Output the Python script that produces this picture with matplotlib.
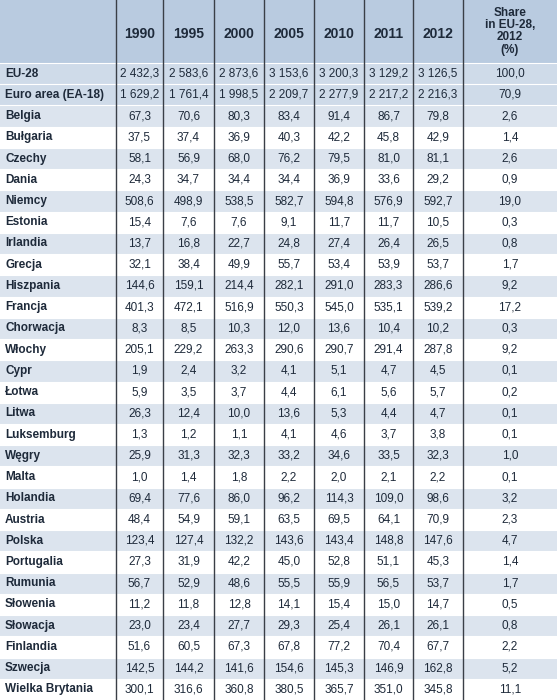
import matplotlib.pyplot as plt
from matplotlib.patches import Rectangle

plt.rcParams['font.family'] = ['Liberation Sans Narrow', 'Liberation Sans', 'DejaVu Sans']

years = ["1990", "1995", "2000", "2005", "2010", "2011", "2012"]
share_header = "Share\nin EU-28,\n2012\n(%)"

countries = [
    "EU-28", "Euro area (EA-18)", "Belgia", "Bułgaria", "Czechy", "Dania", "Niemcy",
    "Estonia", "Irlandia", "Grecja", "Hiszpania", "Francja", "Chorwacja", "Włochy",
    "Cypr", "Łotwa", "Litwa", "Luksemburg", "Węgry", "Malta", "Holandia", "Austria",
    "Polska", "Portugalia", "Rumunia", "Słowenia", "Słowacja", "Finlandia", "Szwecja",
    "Wielka Brytania",
]

values = [
    [2432.3, 2583.6, 2873.6, 3153.6, 3200.3, 3129.2, 3126.5],
    [1629.2, 1761.4, 1998.5, 2209.7, 2277.9, 2217.2, 2216.3],
    [67.3, 70.6, 80.3, 83.4, 91.4, 86.7, 79.8],
    [37.5, 37.4, 36.9, 40.3, 42.2, 45.8, 42.9],
    [58.1, 56.9, 68.0, 76.2, 79.5, 81.0, 81.1],
    [24.3, 34.7, 34.4, 34.4, 36.9, 33.6, 29.2],
    [508.6, 498.9, 538.5, 582.7, 594.8, 576.9, 592.7],
    [15.4, 7.6, 7.6, 9.1, 11.7, 11.7, 10.5],
    [13.7, 16.8, 22.7, 24.8, 27.4, 26.4, 26.5],
    [32.1, 38.4, 49.9, 55.7, 53.4, 53.9, 53.7],
    [144.6, 159.1, 214.4, 282.1, 291.0, 283.3, 286.6],
    [401.3, 472.1, 516.9, 550.3, 545.0, 535.1, 539.2],
    [8.3, 8.5, 10.3, 12.0, 13.6, 10.4, 10.2],
    [205.1, 229.2, 263.3, 290.6, 290.7, 291.4, 287.8],
    [1.9, 2.4, 3.2, 4.1, 5.1, 4.7, 4.5],
    [5.9, 3.5, 3.7, 4.4, 6.1, 5.6, 5.7],
    [26.3, 12.4, 10.0, 13.6, 5.3, 4.4, 4.7],
    [1.3, 1.2, 1.1, 4.1, 4.6, 3.7, 3.8],
    [25.9, 31.3, 32.3, 33.2, 34.6, 33.5, 32.3],
    [1.0, 1.4, 1.8, 2.2, 2.0, 2.1, 2.2],
    [69.4, 77.6, 86.0, 96.2, 114.3, 109.0, 98.6],
    [48.4, 54.9, 59.1, 63.5, 69.5, 64.1, 70.9],
    [123.4, 127.4, 132.2, 143.6, 143.4, 148.8, 147.6],
    [27.3, 31.9, 42.2, 45.0, 52.8, 51.1, 45.3],
    [56.7, 52.9, 48.6, 55.5, 55.9, 56.5, 53.7],
    [11.2, 11.8, 12.8, 14.1, 15.4, 15.0, 14.7],
    [23.0, 23.4, 27.7, 29.3, 25.4, 26.1, 26.1],
    [51.6, 60.5, 67.3, 67.8, 77.2, 70.4, 67.7],
    [142.5, 144.2, 141.6, 154.6, 145.3, 146.9, 162.8],
    [300.1, 316.6, 360.8, 380.5, 365.7, 351.0, 345.8],
]

shares = [100.0, 70.9, 2.6, 1.4, 2.6, 0.9, 19.0, 0.3, 0.8, 1.7, 9.2, 17.2, 0.3, 9.2,
          0.1, 0.2, 0.1, 0.1, 1.0, 0.1, 3.2, 2.3, 4.7, 1.4, 1.7, 0.5, 0.8, 2.2, 5.2, 11.1]


def fmt(v):
    s = f"{v:,.1f}".replace(",", " ").replace(".", ",")
    return s


W, H = 557, 700
fig = plt.figure(figsize=(W / 100, H / 100), dpi=100)
ax = fig.add_axes([0, 0, 1, 1])
ax.set_xlim(0, W)
ax.set_ylim(H, 0)
ax.axis("off")

col_edges = [0, 116, 163, 214, 264, 314, 364, 413, 463, W]
header_h = 63
row_h = (H - header_h) / len(countries)
header_col = "#b9cbe0"
shade_col = "#dce4ee"
agg_col = "#cfdbe9"
text_col = "#1e2a3a"

ax.add_patch(Rectangle((0, 0), W, header_h, color=header_col, lw=0))
for i in range(len(countries)):
    y0 = header_h + i * row_h
    if i < 2:
        c = agg_col
    elif (i - 2) % 2 == 0:
        c = shade_col
    else:
        c = "white"
    ax.add_patch(Rectangle((0, y0), W, row_h, color=c, lw=0))
    ax.plot([0, W], [y0, y0], color="white", lw=0.8)

for x in col_edges[1:-1]:
    ax.plot([x, x], [0, H], color="#3a3f47", lw=1.0)

centers = [(col_edges[j] + col_edges[j + 1]) / 2 for j in range(len(col_edges) - 1)]
for j, yr in enumerate(years):
    ax.text(centers[j + 1], header_h / 2 + 2, yr, ha="center", va="center",
            fontsize=10, fontweight="bold", color=text_col)
ax.text(centers[-1], header_h / 2, share_header, ha="center", va="center",
        fontsize=8.5, fontweight="bold", color=text_col, linespacing=1.0)

for i, name in enumerate(countries):
    yc = header_h + (i + 0.5) * row_h
    ax.text(5, yc, name, ha="left", va="center", fontsize=8.5,
            fontweight="bold", color=text_col)
    for j, v in enumerate(values[i]):
        ax.text(centers[j + 1], yc, fmt(v), ha="center", va="center",
                fontsize=8.5, color=text_col)
    ax.text(centers[-1], yc, fmt(shares[i]), ha="center", va="center",
            fontsize=8.5, color=text_col)

fig.savefig("out.png", dpi=100)
